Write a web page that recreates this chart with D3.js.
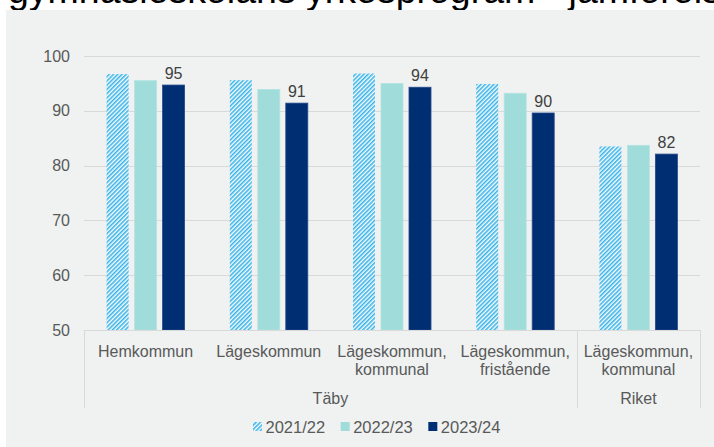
<!DOCTYPE html>
<html>
<head lang="sv">
    <meta charset="UTF-8">
    <title> Yrkesprogram </title>
    <script type="text/javascript" src="https://cdn.jsdelivr.net/npm/d3@7"></script>
    <style>
        body { margin: 0; background: #ffffff; }
        svg text { font-family: "Liberation Sans", Arial, sans-serif; }
    </style>
</head>
<body>
<div id="chart"></div>
<script>

    // Data
    var categories = [
        ["Hemkommun"],
        ["Lägeskommun"],
        ["Lägeskommun,", "kommunal"],
        ["Lägeskommun,", "fristående"],
        ["Lägeskommun,", "kommunal"]
    ];
    var groups    = [{ name: "Täby", from: 0, to: 3 }, { name: "Riket", from: 4, to: 4 }];
    var series    = ["2021/22", "2022/23", "2023/24"];
    var v2021     = [96.7, 95.6, 96.8, 94.9, 83.5];
    var v2022     = [95.5, 93.9, 95.0, 93.2, 83.7];
    var v2023     = [94.7, 91.4, 94.3, 89.6, 82.1];
    var yTicks    = [50, 60, 70, 80, 90, 100];
    var title     = "gymnasieskolans yrkesprogram - jämförelse";

    var values    = [v2021, v2022, v2023];
    var colors    = ["url(#hatch)", "#a0dcd9", "#002e72"];
    var textColor = "#595959";
    var gridColor = "#d9d9d9";

    var W = 714, H = 447;
    var plotL = 84, plotR = 700, plotT = 56, plotB = 330;

    var svg = d3.select("#chart").append("svg")
            .attr("width", W)
            .attr("height", H);

    // hatch pattern for 2021/22
    var pat = svg.append("defs").append("pattern")
            .attr("id", "hatch")
            .attr("patternUnits", "userSpaceOnUse")
            .attr("width", 3)
            .attr("height", 3)
            .attr("patternTransform", "rotate(45)");
    pat.append("rect").attr("width", 3).attr("height", 3).attr("fill", "#ffffff");
    pat.append("rect").attr("width", 1.6).attr("height", 3).attr("fill", "#3ab3e8");

    // cut off title (the panel hides its lower part)
    svg.append("text")
            .attr("x", 8)
            .attr("y", 3)
            .text(title)
            .style("font-size", "37.5px")
            .style("fill", "#000000");

    // panel
    svg.append("rect")
            .attr("x", 6).attr("y", 10)
            .attr("width", W - 6).attr("height", H - 10)
            .attr("fill", "#eff2f1");

    var x = d3.scaleBand()
            .domain(d3.range(categories.length))
            .range([plotL, plotR]);

    var xs = d3.scaleBand()
            .domain(series)
            .range([22.6, 100.6])
            .paddingInner(0.214);

    var y = d3.scaleLinear()
            .domain([50, 100])
            .range([plotB, plotT]);

    // grid
    svg.append("g").selectAll("line")
            .data(yTicks.filter(function (t) { return t > 50; }))
            .enter().append("line")
            .attr("x1", plotL).attr("x2", plotR)
            .attr("y1", function (d) { return Math.round(y(d)) + 0.5; })
            .attr("y2", function (d) { return Math.round(y(d)) + 0.5; })
            .style("stroke", gridColor)
            .style("stroke-width", 1);

    // y axis labels
    var yAxis = svg.append("g")
            .attr("transform", "translate(" + (plotL - 14) + ",0)")
            .call(d3.axisLeft(y).tickValues(yTicks).tickSize(0).tickPadding(0));
    yAxis.select(".domain").remove();
    yAxis.attr("font-family", null).attr("font-size", null);
    yAxis.selectAll("text")
            .style("font-size", "16px")
            .style("fill", textColor);

    // bars
    series.forEach(function (s, si) {
        svg.append("g").selectAll("rect")
                .data(values[si])
                .enter().append("rect")
                .attr("x", function (d, i) { return x(i) + xs(s); })
                .attr("y", function (d) { return y(d); })
                .attr("width", xs.bandwidth())
                .attr("height", function (d) { return y(50) - y(d); })
                .style("fill", colors[si])
                .style("stroke", si == 2 ? "#26488a" : (si == 1 ? "#b4e4e1" : "none"))
                .style("stroke-width", 0.8);
    });

    // labels on last series
    svg.append("g").selectAll("text")
            .data(v2023)
            .enter().append("text")
            .attr("x", function (d, i) { return x(i) + xs(series[2]) + xs.bandwidth() / 2; })
            .attr("y", function (d) { return y(d) - 6; })
            .attr("text-anchor", "middle")
            .text(function (d) { return d3.format(".0f")(d); })
            .style("font-size", "16px")
            .style("fill", "#404040");

    // x axis line
    svg.append("line")
            .attr("x1", plotL).attr("x2", plotR)
            .attr("y1", plotB + 0.5).attr("y2", plotB + 0.5)
            .style("stroke", gridColor);

    // group separators
    var seps = [plotL, x(groups[1].from), plotR];
    svg.append("g").selectAll("line")
            .data(seps)
            .enter().append("line")
            .attr("x1", function (d) { return Math.round(d) + 0.5; })
            .attr("x2", function (d) { return Math.round(d) + 0.5; })
            .attr("y1", plotB)
            .attr("y2", 408)
            .style("stroke", gridColor);

    // category labels
    var cat = svg.append("g").selectAll("text")
            .data(categories)
            .enter().append("text")
            .attr("text-anchor", "middle")
            .style("font-size", "16px")
            .style("fill", textColor);
    cat.each(function (lines, i) {
        var t = d3.select(this);
        lines.forEach(function (l, li) {
            t.append("tspan")
                    .attr("x", x(i) + x.bandwidth() / 2)
                    .attr("y", 357 + li * 18)
                    .text(l);
        });
    });

    // group labels
    svg.append("g").selectAll("text")
            .data(groups)
            .enter().append("text")
            .attr("x", function (d) { return (x(d.from) + x(d.to) + x.bandwidth()) / 2; })
            .attr("y", 404)
            .attr("text-anchor", "middle")
            .text(function (d) { return d.name; })
            .style("font-size", "16px")
            .style("fill", textColor);

    // legend
    var legend = svg.append("g").attr("transform", "translate(253,0)");
    var lx = 0;
    series.forEach(function (s, si) {
        var g = legend.append("g").attr("transform", "translate(" + lx + ",0)");
        g.append("rect")
                .attr("x", 0).attr("y", 422)
                .attr("width", 9).attr("height", 9)
                .style("fill", colors[si]);
        var t = g.append("text")
                .attr("x", 12.5)
                .attr("y", 433)
                .text(s)
                .style("font-size", "16.5px")
                .style("fill", textColor);
        lx += 12.5 + t.node().getComputedTextLength() + 15.5;
    });

</script>
</body>
</html>
